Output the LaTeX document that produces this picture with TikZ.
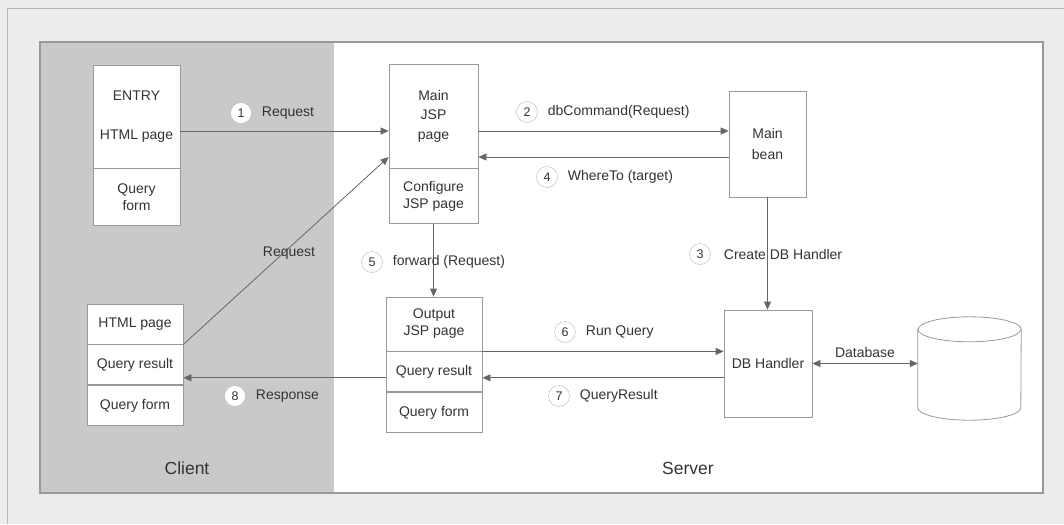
\documentclass[tikz,border=0pt]{standalone}
\usepackage{fontspec}
\setmainfont{Liberation Sans}
\usetikzlibrary{arrows.meta, positioning}

\definecolor{clientgray}{HTML}{C9C9C9}
\definecolor{pagegray}{HTML}{ECECEC}
\definecolor{linegray}{HTML}{666666}
\definecolor{boxgray}{HTML}{999999}
\definecolor{inkgray}{HTML}{333333}

\begin{document}
\begin{tikzpicture}[x=1pt, y=-1pt, font=\fontsize{14}{17}\selectfont, text=inkgray,
    part/.style={draw=boxgray, fill=white, line width=0.8pt, inner sep=2pt, align=center},
    flow/.style={draw=linegray, line width=0.8pt, -{Triangle[length=8pt, width=7pt]}},
    stepnum/.style={circle, draw=boxgray!70, fill=white, minimum size=21pt, inner sep=0pt, font=\fontsize{12.5}{14}\selectfont},
    steptext/.style={inner sep=1pt}]
  \useasboundingbox (0,0) rectangle (1064,524);
  % page and the two areas
  \fill[pagegray] (0,0) rectangle (1064,524);
  \draw[boxgray!70] (7,524) -- (7,8) -- (1064,8);
  \fill[white] (334,42) rectangle (1043,493);
  \fill[clientgray] (40,42) rectangle (334,493);
  \draw[boxgray, line width=1.5pt] (40,42) rectangle (1043,493);

  % client side
  \node[part, minimum width=87pt, minimum height=103pt] (entry) at (136.5,116.5) {ENTRY\\[22pt]HTML page};
  \node[part, minimum width=87pt, minimum height=57pt, below=0pt of entry] (entryform) {Query\\form};
  \node[part, minimum width=96pt, minimum height=40pt] (chtml) at (135,324) {HTML page};
  \node[part, minimum width=96pt, minimum height=40pt, below=0pt of chtml] (cres) {Query result};
  \node[part, minimum width=96pt, minimum height=40pt, below=0pt of cres] (cform) {Query form};

  % server side
  \node[part, minimum width=89pt, minimum height=104pt] (main) at (433.5,116) {Main\\[2pt]JSP\\[3pt]page};
  \node[part, minimum width=89pt, minimum height=55pt, below=0pt of main] (config) {Configure\\JSP page};
  \node[part, minimum width=77pt, minimum height=106pt] (bean) at (767.5,144) {Main\\[4pt]bean};
  \node[part, minimum width=88pt, minimum height=107pt] (dbh) at (768,363.5) {DB Handler};
  \node[part, minimum width=96pt, minimum height=54pt] (outtop) at (434,324) {Output\\JSP page};
  \node[part, minimum width=96pt, minimum height=40pt, below=0pt of outtop] (outres) {Query result};
  \node[part, minimum width=96pt, minimum height=40pt, below=0pt of outres] (outform) {Query form};

  % database drum
  \node[minimum width=103pt, minimum height=103pt, inner sep=0pt] (db) at (969.5,368.5) {};
  \filldraw[fill=white, draw=boxgray, line width=0.8pt]
    ([yshift=-12.5pt]db.north west) -- ([yshift=12.5pt]db.south west)
    arc[start angle=180, end angle=360, x radius=51.5pt, y radius=12.5pt]
    -- ([yshift=-12.5pt]db.north east)
    arc[start angle=0, end angle=180, x radius=51.5pt, y radius=12.5pt] -- cycle;
  \draw[boxgray, line width=0.8pt] ([yshift=-12.5pt]db.north west)
    arc[start angle=180, end angle=360, x radius=51.5pt, y radius=12.5pt];

  \node[font=\fontsize{17.5}{20}\selectfont] (client) at (187,468) {Client};
  \node[font=\fontsize{17.5}{20}\selectfont] (server) at (688,468) {Server};

  % connectors
  \coordinate (hi) at ([yshift=13pt]bean.west);
  \coordinate (lo) at ([yshift=-13pt]bean.west);
  \coordinate (back) at ([yshift=-6pt]outres.center);
  \draw[flow] (entry.east |- hi) -- (main.west |- hi);
  \draw[flow] (main.east |- hi) -- (hi);
  \draw[flow] (lo) -- (main.east |- lo);
  \draw[flow] (bean.south) -- (bean.south |- dbh.north);
  \draw[flow] (config.south) -- (config.south |- outtop.north);
  \draw[flow] (outtop.south east) -- (outtop.south east -| dbh.west);
  \draw[flow] (dbh.west |- back) -- (outres.east |- back);
  \draw[flow] (outres.west |- back) -- (cres.east |- back);
  \draw[flow] (chtml.south east) -- ([yshift=-41pt]main.west);
  \draw[flow, {Triangle[length=8pt, width=7pt]}-{Triangle[length=8pt, width=7pt]}] (dbh.east) -- (dbh.east -| db.west);

  % numbered labels
  \node[stepnum] (n1) at (241,113) {1};
  \node[steptext, right=9pt of n1] (t1) {Request};
  \node[stepnum] (n2) at (527,112) {2};
  \node[steptext, right=9pt of n2] (t2) {dbCommand(Request)};
  \node[stepnum] (n3) at (700,254) {3};
  \node[steptext, right=12pt of n3] (t3) {Create DB Handler};
  \node[stepnum] (n4) at (547,177) {4};
  \node[steptext, right=9pt of n4] (t4) {WhereTo (target)};
  \node[stepnum] (n5) at (372,262) {5};
  \node[steptext, right=9pt of n5] (t5) {forward (Request)};
  \node[stepnum] (n6) at (565,332) {6};
  \node[steptext, right=9pt of n6] (t6) {Run Query};
  \node[stepnum] (n7) at (559,396) {7};
  \node[steptext, right=9pt of n7] (t7) {QueryResult};
  \node[stepnum] (n8) at (235,396) {8};
  \node[steptext, right=9pt of n8] (t8) {Response};
  \node[steptext] (req) at (289,253) {Request};
  \node[steptext] (dblabel) at (865,352) {Database};
\end{tikzpicture}
\end{document}
